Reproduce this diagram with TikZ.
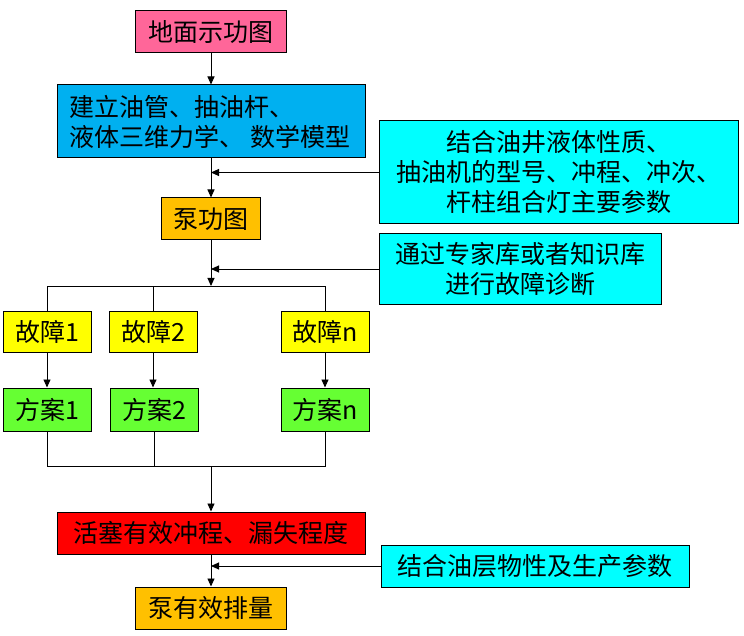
\documentclass[tikz,border=0pt]{standalone}
\usepackage{fontspec}
\newfontfamily\cjk{Noto Sans CJK SC}
\usetikzlibrary{arrows.meta}
\definecolor{cpink}{RGB}{255,102,153}
\definecolor{cblue}{RGB}{0,176,240}
\definecolor{ccyan}{RGB}{0,255,255}
\definecolor{corange}{RGB}{255,192,0}
\definecolor{cyellow}{RGB}{255,255,0}
\definecolor{cgreen}{RGB}{102,255,51}
\definecolor{cred}{RGB}{255,0,0}
\tikzset{
  box/.style={draw=black, line width=1pt, inner sep=0pt, font=\cjk\fontsize{25}{30}\selectfont, text=black, align=center},
  conn/.style={draw=black, line width=0.9pt},
  arr/.style={conn, -{Triangle[length=8pt,width=7pt]}}
}
\begin{document}
\begin{tikzpicture}[x=1pt,y=-1pt]
\useasboundingbox[fill=white] (0,0) rectangle (744,636);
% main column
\node[box, fill=cpink, minimum width=151pt, minimum height=42pt] (n1) at (211,32) {地面示功图};
\node[box, fill=cblue, minimum width=308pt, minimum height=73pt, text width=284pt, align=left] (n2) at (211,121.5) {建立油管、抽油杆、\\液体三维力学、\hspace{6pt}数学模型};
\node[box, fill=corange, minimum width=99pt, minimum height=42pt] (n3) at (211,219) {泵功图};
\node[box, fill=ccyan, minimum width=359pt, minimum height=103pt] (c1) at (558.5,172.5) {结合油井液体性质、\\抽油机的型号、冲程、冲次、\\杆柱组合灯主要参数};
\node[box, fill=ccyan, minimum width=282pt, minimum height=71pt] (c2) at (520,269) {通过专家库或者知识库\\进行故障诊断};
% faults
\node[box, fill=cyellow, minimum width=88pt, minimum height=41pt] (f1) at (47,331.5) {故障1};
\node[box, fill=cyellow, minimum width=88pt, minimum height=41pt] (f2) at (153,331.5) {故障2};
\node[box, fill=cyellow, minimum width=88pt, minimum height=41pt] (fn) at (325,331.5) {故障n};
\node[box, fill=cgreen, minimum width=88pt, minimum height=43pt] (s1) at (47,409.5) {方案1};
\node[box, fill=cgreen, minimum width=88pt, minimum height=43pt] (s2) at (154,409.5) {方案2};
\node[box, fill=cgreen, minimum width=88pt, minimum height=43pt] (sn) at (325,409.5) {方案n};
% bottom
\node[box, fill=cred, minimum width=308pt, minimum height=42pt] (r) at (211,533) {活塞有效冲程、漏失程度};
\node[box, fill=ccyan, minimum width=308pt, minimum height=42pt] (c3) at (535,566) {结合油层物性及生产参数};
\node[box, fill=corange, minimum width=151pt, minimum height=42pt] (p) at (211,608) {泵有效排量};
\coordinate (b) at (211,286);
\coordinate (m) at (211,466);
% connectors
\draw[arr] (n1.south) -- (n2.north);
\draw[arr] (n2.south) -- (n3.north);
\draw[arr] (c1.west) -- (c1.west -| n2.south);
\draw[arr] (n3.south) -- (b);
\draw[arr] (c2.west) -- (c2.west -| n3.south);
\draw[conn] (f1.north) -- (f1.north |- b) -- (fn.north |- b) -- (fn.north);
\draw[conn] (f2.north) -- (f2.north |- b);
\draw[arr] (f1.south) -- (s1.north);
\draw[arr] (f2.south) -- (f2.south |- s2.north);
\draw[arr] (fn.south) -- (sn.north);
\draw[conn] (s1.south) -- (s1.south |- m) -- (sn.south |- m) -- (sn.south);
\draw[conn] (s2.south) -- (s2.south |- m);
\draw[arr] (m) -- (r.north);
\draw[arr] (r.south) -- (p.north);
\draw[arr] (c3.west) -- (c3.west -| r.south);
\end{tikzpicture}
\end{document}
